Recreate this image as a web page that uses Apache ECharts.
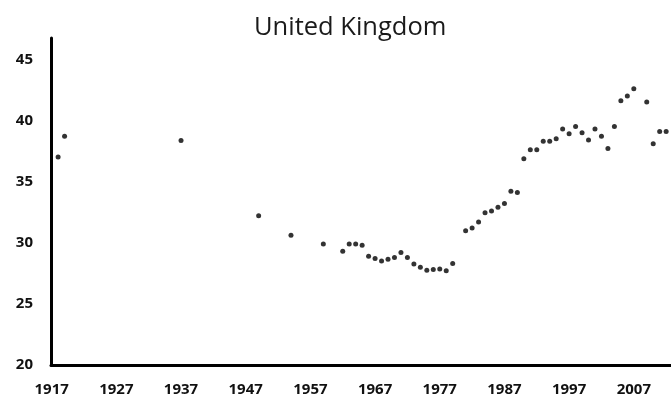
<!DOCTYPE html>
<html>
<head>
<meta charset="utf-8">
<script src="https://cdn.jsdelivr.net/npm/echarts@6/dist/echarts.min.js"></script>
<style>
html,body{margin:0;padding:0;background:#fff;}
#chart{width:671px;height:403px;}
</style>
</head>
<body>
<div id="chart"></div>
<script>
const years = [1918, 1919, 1937, 1949, 1954, 1959, 1962, 1963, 1964, 1965, 1966, 1967, 1968, 1969, 1970, 1971, 1972, 1973, 1974, 1975, 1976, 1977, 1978, 1979, 1981, 1982, 1983, 1984, 1985, 1986, 1987, 1988, 1989, 1990, 1991, 1992, 1993, 1994, 1995, 1996, 1997, 1998, 1999, 2000, 2001, 2002, 2003, 2004, 2005, 2006, 2007, 2009, 2010, 2011, 2012];
const shares = [37.0, 38.7, 38.35, 32.2, 30.6, 29.9, 29.3, 29.9, 29.9, 29.8, 28.9, 28.7, 28.5, 28.65, 28.8, 29.2, 28.8, 28.25, 28.0, 27.75, 27.8, 27.85, 27.7, 28.3, 30.97, 31.2, 31.7, 32.45, 32.6, 32.9, 33.2, 34.2, 34.1, 36.86, 37.6, 37.6, 38.3, 38.3, 38.5, 39.3, 38.9, 39.5, 39.0, 38.4, 39.3, 38.7, 37.7, 39.5, 41.6, 42.0, 42.6, 41.5, 38.1, 39.1, 39.1];
const xTickLabels = [1917, 1927, 1937, 1947, 1957, 1967, 1977, 1987, 1997, 2007];
const yTickLabels = [20, 25, 30, 35, 40, 45];
const titleText = 'United Kingdom';

const points = years.map((y, i) => [y, shares[i]]);

const chart = echarts.init(document.getElementById('chart'), null, {renderer: 'canvas'});
chart.setOption({
  backgroundColor: '#ffffff',
  animation: false,
  title: {
    text: titleText,
    left: 254,
    top: 15,
    padding: 0,
    textStyle: {fontFamily: 'Open Sans', fontWeight: 'normal', fontSize: 25.5, color: '#1a1a1a'}
  },
  grid: {left: 51, right: 0, top: 38, bottom: 38, containLabel: false},
  xAxis: {
    type: 'value',
    min: 1916.9,
    max: 2012.75,
    splitLine: {show: false},
    axisTick: {show: false},
    axisLine: {show: true, onZero: false, lineStyle: {color: '#000', width: 3}},
    axisLabel: {
      customValues: xTickLabels,
      margin: 17,
      fontFamily: 'Open Sans', fontWeight: 'bold', fontSize: 15, color: '#111',
      formatter: v => String(v)
    }
  },
  yAxis: {
    type: 'value',
    min: 20,
    max: 46.74,
    splitLine: {show: false},
    axisTick: {show: false},
    axisLine: {show: true, onZero: false, lineStyle: {color: '#000', width: 3}},
    axisLabel: {
      customValues: yTickLabels,
      margin: 18,
      fontFamily: 'Open Sans', fontWeight: 'bold', fontSize: 15, color: '#111',
      formatter: v => String(v)
    }
  },
  series: [{
    type: 'scatter',
    data: points,
    symbol: 'circle',
    symbolSize: 5,
    itemStyle: {color: '#000'},
    clip: false
  }]
});
</script>
</body>
</html>
